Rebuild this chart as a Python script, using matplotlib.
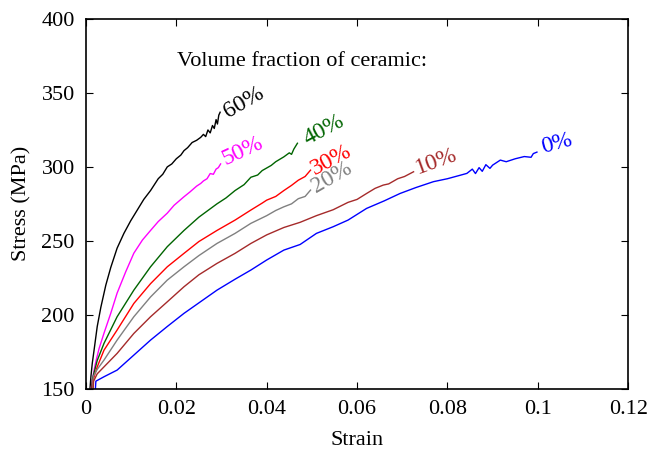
import numpy as np
import matplotlib
matplotlib.use("Agg")
import matplotlib.pyplot as plt

plt.rcParams["font.family"] = ["Liberation Serif", "DejaVu Serif"]

# volume fraction of ceramic -> (strain, stress in MPa)
labels = ["60%", "50%", "40%", "30%", "20%", "10%", "0%"]
colors = ["black", "#ff00ff", "#006400", "#ff0000", "#808080", "#a52a2a", "#0000ff"]

strain_60 = [0.0009, 0.0011, 0.0014, 0.0018, 0.0025, 0.0033, 0.0044, 0.0055, 0.0069, 0.0084,
             0.0099, 0.0114, 0.0128, 0.0143, 0.016, 0.017, 0.018, 0.019, 0.020, 0.021,
             0.0217, 0.0225, 0.0235, 0.0245, 0.0254, 0.026, 0.0265, 0.027, 0.0275, 0.028,
             0.0284, 0.0288, 0.0291, 0.0294, 0.0297]
stress_60 = [150, 158, 167, 176, 192, 205, 220, 232, 245, 255,
             263.5, 271, 278, 284, 292, 295, 300, 302, 305.5, 308,
             311, 313, 316.5, 318, 320, 322, 320.5, 325, 323, 328,
             326, 332, 329, 335, 337]

strain_50 = [0.0012, 0.0014, 0.0021, 0.0029, 0.004, 0.0055, 0.0069, 0.0088, 0.0106, 0.0125,
             0.0143, 0.016, 0.018, 0.0195, 0.0217, 0.023, 0.0245, 0.0254, 0.026, 0.0268,
             0.0275, 0.0282, 0.0288, 0.0293, 0.0298]
stress_50 = [150, 156, 167, 177, 187.5, 201, 214.6, 229, 241.6, 250.5,
             257, 263, 268.7, 274, 279.8, 283, 287, 288.8, 290.5, 292,
             295.5, 295, 298.5, 299.5, 302]

strain_40 = [0.0013, 0.0014, 0.0025, 0.004, 0.0069, 0.0106, 0.0143, 0.018, 0.0217, 0.025,
             0.029, 0.031, 0.033, 0.035, 0.0365, 0.038, 0.039, 0.041, 0.042, 0.0438,
             0.045, 0.0455, 0.046, 0.0468]
stress_40 = [150, 156, 169, 180.6, 198.6, 216.6, 232.4, 246, 257, 266,
             275, 279, 284, 288, 293, 294.5, 297.5, 301, 303.5, 306.8,
             309.5, 308.5, 312, 316]

strain_30 = [0.0014, 0.0015, 0.0025, 0.004, 0.0069, 0.0106, 0.0143, 0.018, 0.0217, 0.025,
             0.029, 0.033, 0.0365, 0.039, 0.040, 0.042, 0.0438, 0.0455, 0.047, 0.0485,
             0.0497]
stress_30 = [150, 155, 164.7, 176, 189.6, 207.6, 221, 232.4, 241.5, 249.5,
             257, 264, 270.8, 275.5, 277.5, 280, 284, 287.5, 291, 293.5,
             297.8]

strain_20 = [0.0015, 0.0016, 0.0025, 0.004, 0.0069, 0.0106, 0.0143, 0.018, 0.0217, 0.025,
             0.029, 0.033, 0.0365, 0.040, 0.042, 0.0438, 0.0455, 0.047, 0.0485, 0.0497]
stress_20 = [150, 158, 163, 169.3, 182.8, 198.6, 212, 223.4, 232.4, 240,
             248.2, 255, 261.8, 267, 270.5, 273, 275, 278.5, 280, 284.3]

strain_10 = [0.0016, 0.0017, 0.0025, 0.004, 0.0069, 0.0106, 0.0143, 0.018, 0.0217, 0.025,
             0.029, 0.033, 0.0365, 0.040, 0.0438, 0.0474, 0.051, 0.0547, 0.058, 0.060,
             0.0621, 0.064, 0.0658, 0.067, 0.069, 0.0705, 0.0725]
stress_10 = [150, 155, 160, 164.7, 173.8, 187.3, 198.6, 208.7, 218.9, 227,
             234.7, 241.5, 248.2, 254, 259, 262.5, 267, 271, 276, 278,
             282, 285.5, 287.7, 288.5, 292, 293.5, 296.7]

strain_0 = [0.0021, 0.0022, 0.004, 0.0069, 0.01, 0.0143, 0.018, 0.0217, 0.025, 0.029,
            0.033, 0.0365, 0.040, 0.0438, 0.0474, 0.051, 0.0547, 0.058, 0.0621, 0.066,
            0.0695, 0.073, 0.0769, 0.080, 0.083, 0.0843, 0.0855, 0.0862, 0.087, 0.0877,
            0.0885, 0.0894, 0.090, 0.0917, 0.093, 0.095, 0.097, 0.0985, 0.099, 0.0998]
stress_0 = [150, 155, 158, 162.5, 171, 182.8, 192, 200.9, 208, 216.6,
            224, 230.2, 237, 243.7, 247.5, 255, 259.5, 264, 271.9, 277,
            282, 286, 290, 292, 294.5, 295.6, 298.5, 295.5, 299.5, 297,
            301.5, 299, 301.2, 304.6, 303.5, 305.5, 307, 306.5, 309, 310]

strains = [strain_60, strain_50, strain_40, strain_30, strain_20, strain_10, strain_0]
stresses = [stress_60, stress_50, stress_40, stress_30, stress_20, stress_10, stress_0]

# label centre (strain, stress) and rotation
label_x = [0.0350, 0.0347, 0.0526, 0.0542, 0.0544, 0.0776, 0.1043]
label_y = [343.5, 310.5, 325.0, 304.5, 292.5, 303.5, 315.5]
label_rot = [30, 25, 28, 28, 30, 20, 15]

fig = plt.figure(figsize=(6.51, 4.55), dpi=100)
ax = fig.add_axes([0.132, 0.146, 0.833, 0.812])

for x, y, c in zip(strains, stresses, colors):
    ax.plot(x, y, color=c, lw=1.0)

for lab, c, lx, ly, r in zip(labels, colors, label_x, label_y, label_rot):
    ax.text(lx, ly, lab, color=c, fontsize=17, rotation=r,
            ha="center", va="center", rotation_mode="anchor")

ax.text(0.0201, 371.5, "Volume fraction of ceramic:", fontsize=16,
        ha="left", va="center")

ax.set_xlim(0, 0.12)
ax.set_ylim(150, 400)
ax.set_xticks([0, 0.02, 0.04, 0.06, 0.08, 0.1, 0.12])
ax.set_xticklabels(["0", "0.02", "0.04", "0.06", "0.08", "0.1", "0.12"])
ax.set_yticks([150, 200, 250, 300, 350, 400])
ax.tick_params(direction="in", top=True, right=True, length=5, width=0.8,
               labelsize=16, pad=8)
ax.set_xlabel("Strain", fontsize=16, labelpad=9)
ax.set_ylabel("Stress (MPa)", fontsize=16, labelpad=7)
for s in ax.spines.values():
    s.set_linewidth(1.2)

fig.savefig("out.png", dpi=100)
